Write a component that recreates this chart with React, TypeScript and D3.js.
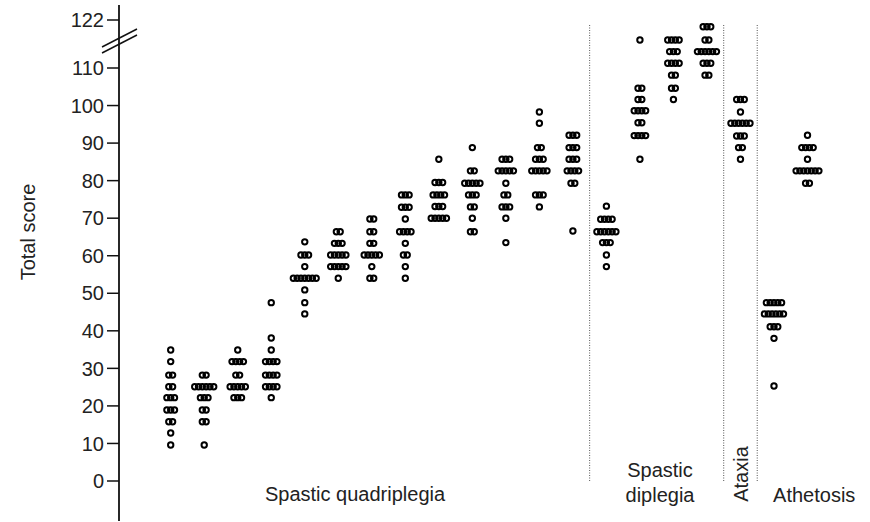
import React from 'react';
import * as d3 from 'd3';

// each column is a list of rows: [total score, number of children with that score]
const quadriplegia: [number, number][][] = [
  [[34.9, 1], [31.8, 1], [28.2, 2], [25.1, 2], [22.2, 3], [18.9, 3], [15.8, 2], [12.8, 1], [9.6, 1]],
  [[28.2, 2], [25.1, 6], [22.2, 3], [18.9, 2], [15.8, 2], [9.6, 1]],
  [[34.9, 1], [31.8, 4], [28.2, 2], [25.1, 5], [22.2, 3]],
  [[47.5, 1], [38.1, 1], [34.9, 1], [31.8, 4], [28.2, 4], [25.1, 4], [22.2, 1]],
  [[63.7, 1], [60.2, 3], [57.1, 1], [54.0, 7], [50.9, 1], [47.5, 1], [44.5, 1]],
  [[66.4, 2], [63.3, 3], [60.2, 5], [57.1, 5], [54.0, 1]],
  [[69.8, 2], [66.4, 2], [63.3, 2], [60.2, 5], [57.1, 1], [54.0, 2]],
  [[76.2, 3], [72.9, 3], [69.8, 1], [66.4, 4], [63.3, 1], [60.2, 2], [57.1, 1], [54.0, 1]],
  [[85.7, 1], [79.5, 3], [76.2, 4], [73.1, 3], [70.0, 5]],
  [[88.8, 1], [82.6, 2], [79.3, 5], [76.2, 3], [73.0, 2], [70.0, 1], [66.4, 2]],
  [[85.7, 3], [82.6, 5], [79.3, 1], [76.2, 2], [73.0, 3], [70.0, 1], [63.5, 1]],
  [[98.3, 1], [95.3, 1], [88.8, 2], [85.7, 3], [82.6, 5], [76.2, 3], [73.0, 1]],
  [[92.1, 3], [88.8, 3], [85.7, 3], [82.6, 4], [79.3, 2], [66.6, 1]],
];
const diplegia: [number, number][][] = [
  [[73.2, 1], [69.7, 4], [66.4, 6], [63.5, 3], [60.2, 1], [57.1, 1]],
  [[117, 1], [104.6, 2], [101.6, 2], [98.6, 4], [95.4, 2], [92.0, 4], [85.7, 1]],
  [[117, 4], [114.1, 3], [111.2, 4], [108.1, 2], [104.6, 2], [101.6, 1]],
  [[120.3, 3], [117, 2], [114.1, 6], [111.2, 3], [108.1, 2]],
];
const ataxia: [number, number][][] = [
  [[101.6, 3], [98.3, 1], [95.3, 6], [91.9, 3], [88.8, 2], [85.7, 1]],
];
const athetosis: [number, number][][] = [
  [[47.5, 5], [44.5, 6], [41.1, 3], [38.0, 1], [25.3, 1]],
  [[92.1, 1], [88.8, 4], [85.7, 1], [82.6, 7], [79.3, 2]],
];
const yTicks = [0, 10, 20, 30, 40, 50, 60, 70, 80, 90, 100, 110, 122];

const columns = [...quadriplegia, ...diplegia, ...ataxia, ...athetosis];
const dividers = [12.5, 16.5, 17.5];

const font = '"Liberation Sans", Arial, sans-serif';

export default function App() {
  const x = d3.scaleLinear().domain([0, columns.length - 1]).range([170.7, 807.5]);
  // axis is broken above 110
  const y = d3.scaleLinear().domain([0, 110, 122]).range([481, 68, 20]);
  const step = 3.8;

  const dots: { cx: number; cy: number }[] = [];
  columns.forEach((col, i) => {
    col.forEach(([score, n]) => {
      for (let j = 0; j < n; j++) {
        dots.push({ cx: x(i) + (j - (n - 1) / 2) * step, cy: y(score) });
      }
    });
  });

  const axisX = 119;

  return (
    <svg width={870} height={522} style={{ position: 'absolute', left: 0, top: 0 }} fontFamily={font}>
      <rect width={870} height={522} fill="#fff" />
      <line x1={axisX} x2={axisX} y1={5} y2={521} stroke="#111" strokeWidth={1.8} />
      {yTicks.map(t => (
        <g key={t} transform={`translate(0,${y(t)})`}>
          <line x1={axisX - 12} x2={axisX} stroke="#111" strokeWidth={1.5} />
          <text x={axisX - 15} dy="0.36em" textAnchor="end" fontSize={20} fill="#222">{t}</text>
        </g>
      ))}
      {/* break marks */}
      <line x1={102} y1={47} x2={137} y2={29} stroke="#111" strokeWidth={1.5} />
      <line x1={102} y1={53} x2={137} y2={35} stroke="#111" strokeWidth={1.5} />
      <text transform="translate(35,232) rotate(-90)" textAnchor="middle" fontSize={20} fill="#222">Total score</text>

      {dividers.map(d => (
        <line key={d} x1={x(d)} x2={x(d)} y1={25} y2={482} stroke="#555" strokeWidth={1} strokeDasharray="1,1.5" />
      ))}

      {dots.map((d, i) => (
        <circle key={i} cx={d.cx} cy={d.cy} r={2.7} fill="none" stroke="#000" strokeWidth={2} />
      ))}

      <text x={x(5.5)} y={501} textAnchor="middle" fontSize={20} fill="#222">Spastic quadriplegia</text>
      <text x={x(14.6)} y={477} textAnchor="middle" fontSize={20} fill="#222">Spastic</text>
      <text x={x(14.6)} y={502} textAnchor="middle" fontSize={20} fill="#222">diplegia</text>
      <text transform={`translate(${x(17) + 8},474) rotate(-90)`} textAnchor="middle" fontSize={20} fill="#222">Ataxia</text>
      <text x={x(19.2)} y={502} textAnchor="middle" fontSize={20} fill="#222">Athetosis</text>
    </svg>
  );
}
